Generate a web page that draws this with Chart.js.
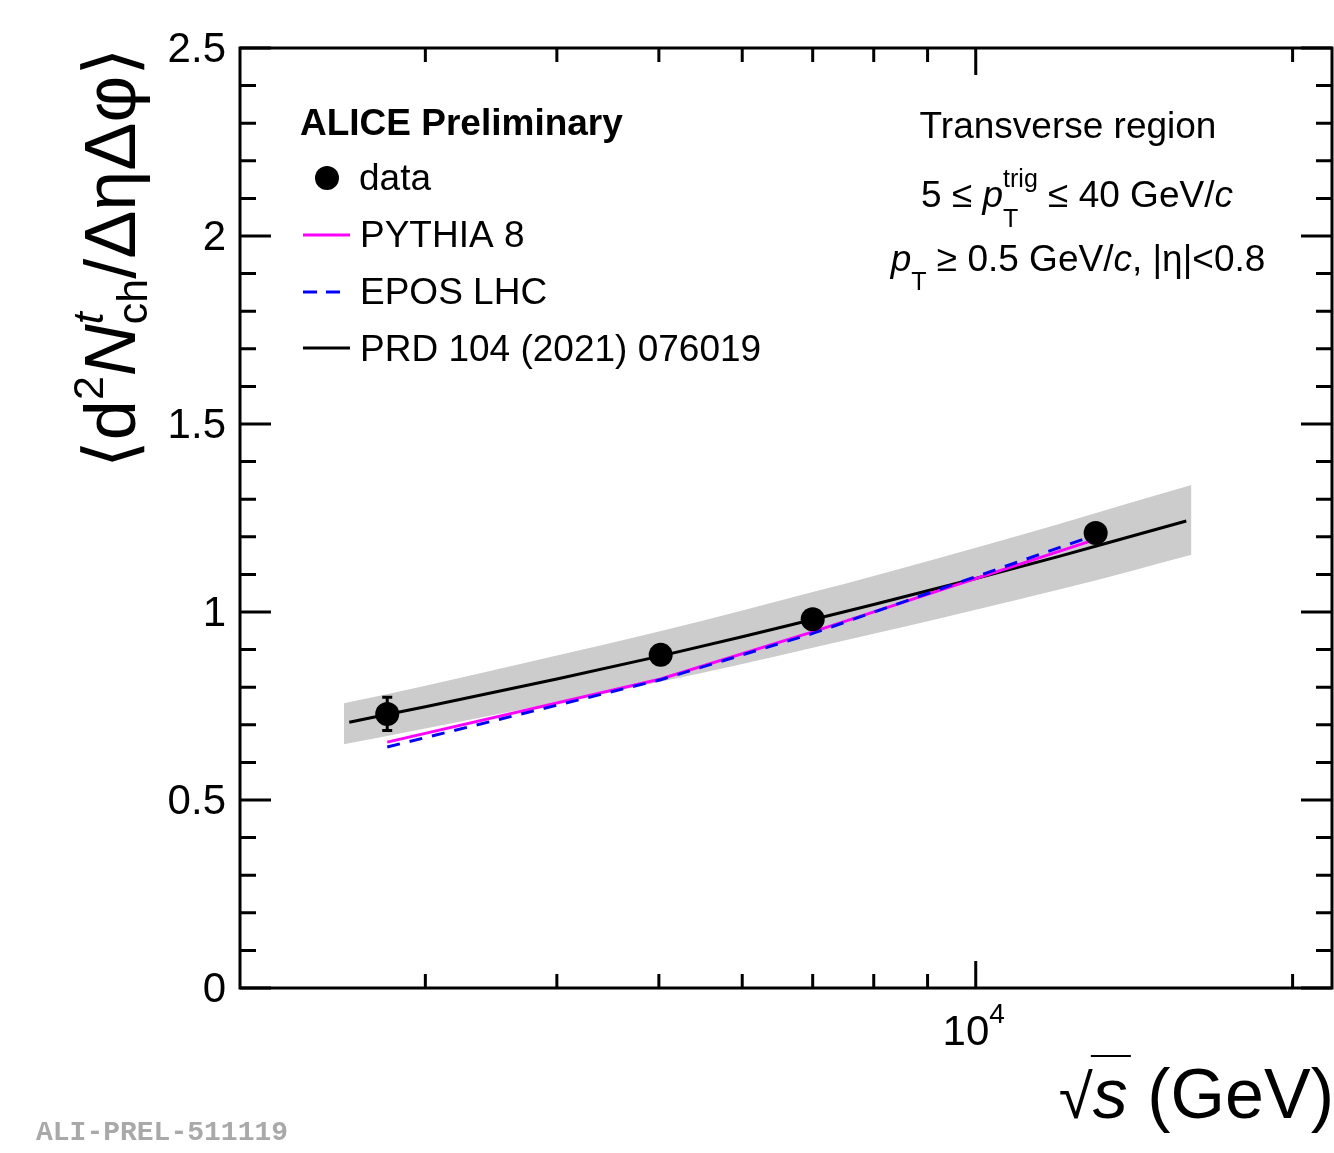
<!DOCTYPE html>
<html>
<head>
<meta charset="utf-8">
<script src="https://cdn.jsdelivr.net/npm/chart.js@4.4.0/dist/chart.umd.min.js"></script>
<style>
  html, body { margin: 0; padding: 0; background: #fff; }
  canvas { display: block; }
</style>
</head>
<body>
<canvas id="chart" width="1334" height="1153"></canvas>
<script>
// Data (sqrt(s) in GeV)
const energies = [2760, 5020, 7000, 13000];
const dataValues = [0.729, 0.886, 0.981, 1.21];
const dataErrors = [0.044, 0.012, 0.012, 0.012];
const pythiaValues = [0.654, 0.822, 0.947, 1.193];
const eposValues = [0.641, 0.820, 0.943, 1.205];

// PRD 104 (2021) 076019 curve and its uncertainty band
const prdEnergies = [2540, 3000, 4000, 5000, 6000, 7000, 8000, 10000, 12000, 14000, 15850];
const prdValues = [0.707, 0.748, 0.822, 0.882, 0.934, 0.98, 1.02, 1.089, 1.148, 1.2, 1.242];
const bandEnergies = [2510, 3000, 4000, 5000, 6000, 7000, 8000, 10000, 12000, 14000, 16030];
const bandUpper = [0.757, 0.804, 0.884, 0.948, 1.004, 1.053, 1.096, 1.171, 1.234, 1.29, 1.338];
const bandLower = [0.648, 0.690, 0.759, 0.814, 0.862, 0.905, 0.942, 1.006, 1.06, 1.108, 1.152];

// Axis ticks
const xMajorTicks = [10000];
const xMinorTicks = [3000, 4000, 5000, 6000, 7000, 8000, 9000, 20000];
const yMajorTicks = [0, 0.5, 1, 1.5, 2, 2.5];
const yMinorTicks = [0.1, 0.2, 0.3, 0.4, 0.6, 0.7, 0.8, 0.9, 1.1, 1.2, 1.3, 1.4,
  1.6, 1.7, 1.8, 1.9, 2.1, 2.2, 2.3, 2.4];
const yTickLabels = ['0', '0.5', '1', '1.5', '2', '2.5'];

const FONT = '"Liberation Sans", Arial, Helvetica, sans-serif';

function xy(xs, ys) {
  return xs.map((x, i) => ({ x: x, y: ys[i] }));
}

function fontOf(p) {
  return (p.italic ? 'italic ' : '') + (p.bold ? 'bold ' : '') + p.size + 'px ' + (p.family || FONT);
}

// lay out text pieces with sub/superscripts; "stack" puts a piece under the previous one
function layoutRich(ctx, parts) {
  let x = 0, prevStart = 0;
  const items = [];
  parts.forEach(p => {
    ctx.font = fontOf(p);
    const w = ctx.measureText(p.text).width;
    let start = x;
    if (p.stack) {
      start = prevStart;
      x = Math.max(x, start + w);
    } else {
      x = start + w;
    }
    items.push({ p: p, start: start, w: w });
    prevStart = start;
  });
  return { items: items, width: x };
}

function drawRich(ctx, parts, x, y, align) {
  const lay = layoutRich(ctx, parts);
  let x0 = x;
  if (align === 'center') x0 = x - lay.width / 2;
  if (align === 'right') x0 = x - lay.width;
  ctx.textAlign = 'left';
  ctx.textBaseline = 'alphabetic';
  lay.items.forEach(it => {
    ctx.font = fontOf(it.p);
    ctx.fillText(it.p.text, x0 + it.start, y + (it.p.dy || 0));
  });
  return { x0: x0, items: lay.items };
}

const decorPlugin = {
  id: 'decor',
  afterDatasetsDraw(chart) {
    const ctx = chart.ctx;
    const ys = chart.scales.y;

    // error bars on data points
    const meta = chart.getDatasetMeta(5);
    ctx.save();
    ctx.strokeStyle = '#000';
    ctx.lineWidth = 3;
    meta.data.forEach((pt, i) => {
      const yTop = ys.getPixelForValue(dataValues[i] + dataErrors[i]);
      const yBot = ys.getPixelForValue(dataValues[i] - dataErrors[i]);
      ctx.beginPath();
      ctx.moveTo(pt.x, yTop);
      ctx.lineTo(pt.x, yBot);
      ctx.moveTo(pt.x - 5, yTop);
      ctx.lineTo(pt.x + 5, yTop);
      ctx.moveTo(pt.x - 5, yBot);
      ctx.lineTo(pt.x + 5, yBot);
      ctx.stroke();
    });
    ctx.restore();
  },
  afterDraw(chart) {
    const ctx = chart.ctx;
    const xs = chart.scales.x;
    const ys = chart.scales.y;
    const a = chart.chartArea;
    ctx.save();
    ctx.fillStyle = '#000';
    ctx.strokeStyle = '#000';

    // frame
    ctx.lineWidth = 3;
    ctx.strokeRect(a.left, a.top, a.right - a.left, a.bottom - a.top);

    // ticks pointing inward on all four sides
    ctx.lineWidth = 3;
    ctx.beginPath();
    xMajorTicks.forEach(v => {
      const px = xs.getPixelForValue(v);
      ctx.moveTo(px, a.bottom); ctx.lineTo(px, a.bottom - 27);
      ctx.moveTo(px, a.top); ctx.lineTo(px, a.top + 27);
    });
    xMinorTicks.forEach(v => {
      const px = xs.getPixelForValue(v);
      ctx.moveTo(px, a.bottom); ctx.lineTo(px, a.bottom - 14);
      ctx.moveTo(px, a.top); ctx.lineTo(px, a.top + 14);
    });
    yMajorTicks.forEach(v => {
      const py = ys.getPixelForValue(v);
      ctx.moveTo(a.left, py); ctx.lineTo(a.left + 31, py);
      ctx.moveTo(a.right, py); ctx.lineTo(a.right - 31, py);
    });
    yMinorTicks.forEach(v => {
      const py = ys.getPixelForValue(v);
      ctx.moveTo(a.left, py); ctx.lineTo(a.left + 16, py);
      ctx.moveTo(a.right, py); ctx.lineTo(a.right - 16, py);
    });
    ctx.stroke();

    // y tick labels
    ctx.font = '42px ' + FONT;
    ctx.textAlign = 'right';
    ctx.textBaseline = 'middle';
    yMajorTicks.forEach((v, i) => {
      ctx.fillText(yTickLabels[i], 226, ys.getPixelForValue(v) + 2);
    });

    // x tick label 10^4
    drawRich(ctx, [
      { text: '10', size: 42 },
      { text: '4', size: 28, dy: -22 }
    ], xs.getPixelForValue(10000) - 2, 1045, 'center');

    // x axis title
    const xt = drawRich(ctx, [
      { text: '\u221A', size: 62 },
      { text: 's', size: 70, italic: true },
      { text: ' (GeV)', size: 70 }
    ], 1334, 1118, 'right');
    const sItem = xt.items[1];
    ctx.lineWidth = 2;
    ctx.beginPath();
    ctx.moveTo(xt.x0 + sItem.start - 2, 1056);
    ctx.lineTo(xt.x0 + sItem.start + sItem.w + 3, 1056);
    ctx.stroke();

    // y axis title, rotated
    ctx.save();
    ctx.translate(135, 258);
    ctx.rotate(-Math.PI / 2);
    drawRich(ctx, [
      { text: '\u27E8', size: 72, family: '"DejaVu Sans", sans-serif' },
      { text: 'd', size: 72 },
      { text: '2', size: 43, dy: -32 },
      { text: 'N', size: 72, italic: true },
      { text: 't', size: 43, italic: true, dy: -32 },
      { text: 'ch', size: 43, dy: 12, stack: true },
      { text: '/\u0394\u03B7\u0394\u03C6', size: 72 },
      { text: '\u27E9', size: 72, family: '"DejaVu Sans", sans-serif' }
    ], 0, 0, 'center');
    ctx.restore();

    // legend
    ctx.font = 'bold 37px ' + FONT;
    ctx.textAlign = 'left';
    ctx.textBaseline = 'alphabetic';
    ctx.fillText('ALICE Preliminary', 300, 135);
    ctx.font = '37px ' + FONT;
    ctx.fillText('data', 359, 190);
    ctx.fillText('PYTHIA 8', 360, 247);
    ctx.fillText('EPOS LHC', 360, 304);
    ctx.fillText('PRD 104 (2021) 076019', 360, 361);

    ctx.beginPath();
    ctx.arc(327, 178, 12, 0, Math.PI * 2);
    ctx.fill();

    ctx.lineWidth = 3;
    ctx.strokeStyle = '#ff00ff';
    ctx.beginPath(); ctx.moveTo(303, 235); ctx.lineTo(350, 235); ctx.stroke();
    ctx.strokeStyle = '#0000ff';
    ctx.setLineDash([14, 9]);
    ctx.beginPath(); ctx.moveTo(303, 292); ctx.lineTo(341, 292); ctx.stroke();
    ctx.setLineDash([]);
    ctx.strokeStyle = '#000';
    ctx.beginPath(); ctx.moveTo(303, 348); ctx.lineTo(350, 348); ctx.stroke();

    // kinematic info
    ctx.font = '37px ' + FONT;
    ctx.textAlign = 'center';
    ctx.fillText('Transverse region', 1068, 138);
    drawRich(ctx, [
      { text: '5 \u2264 ', size: 37 },
      { text: 'p', size: 37, italic: true },
      { text: 'trig', size: 25, dy: -20 },
      { text: 'T', size: 25, dy: 20, stack: true },
      { text: ' \u2264 40 GeV/', size: 37 },
      { text: 'c', size: 37, italic: true }
    ], 1077, 207, 'center');
    drawRich(ctx, [
      { text: 'p', size: 37, italic: true },
      { text: 'T', size: 25, dy: 19 },
      { text: ' \u2265 0.5 GeV/', size: 37 },
      { text: 'c', size: 37, italic: true },
      { text: ', |\u03B7|<0.8', size: 37 }
    ], 1078, 271, 'center');

    // preliminary tag
    ctx.fillStyle = '#a9a9a9';
    ctx.font = 'bold 28px "Liberation Mono", "Courier New", monospace';
    ctx.textAlign = 'left';
    ctx.fillText('ALI-PREL-511119', 36, 1140);

    ctx.restore();
  }
};

const ctx = document.getElementById('chart').getContext('2d');
new Chart(ctx, {
  type: 'line',
  data: {
    datasets: [
      {
        label: 'band upper',
        data: xy(bandEnergies, bandUpper),
        borderColor: 'rgba(0,0,0,0)',
        borderWidth: 0,
        backgroundColor: '#cccccc',
        pointRadius: 0,
        tension: 0.4,
        cubicInterpolationMode: 'monotone',
        fill: '+1',
        order: 10
      },
      {
        label: 'band lower',
        data: xy(bandEnergies, bandLower),
        borderColor: 'rgba(0,0,0,0)',
        borderWidth: 0,
        pointRadius: 0,
        tension: 0.4,
        cubicInterpolationMode: 'monotone',
        fill: false,
        order: 10
      },
      {
        label: 'PRD 104 (2021) 076019',
        data: xy(prdEnergies, prdValues),
        borderColor: '#000000',
        borderWidth: 3,
        pointRadius: 0,
        tension: 0.4,
        cubicInterpolationMode: 'monotone',
        fill: false,
        order: 4
      },
      {
        label: 'PYTHIA 8',
        data: xy(energies, pythiaValues),
        borderColor: '#ff00ff',
        borderWidth: 3,
        pointRadius: 0,
        tension: 0,
        fill: false,
        order: 3
      },
      {
        label: 'EPOS LHC',
        data: xy(energies, eposValues),
        borderColor: '#0000ff',
        borderWidth: 3,
        borderDash: [13, 10],
        pointRadius: 0,
        tension: 0,
        fill: false,
        order: 2
      },
      {
        label: 'data',
        data: xy(energies, dataValues),
        showLine: false,
        pointRadius: 12,
        pointBackgroundColor: '#000',
        pointBorderColor: '#000',
        pointBorderWidth: 0,
        order: 1
      }
    ]
  },
  options: {
    responsive: false,
    devicePixelRatio: 1,
    animation: false,
    layout: { autoPadding: false, padding: { left: 240, right: 2, top: 48, bottom: 165 } },
    scales: {
      x: { type: 'logarithmic', min: 2000, max: 21800, display: false },
      y: { type: 'linear', min: 0, max: 2.5, display: false }
    },
    plugins: {
      legend: { display: false },
      tooltip: { enabled: false }
    }
  },
  plugins: [decorPlugin]
});
</script>
</body>
</html>
